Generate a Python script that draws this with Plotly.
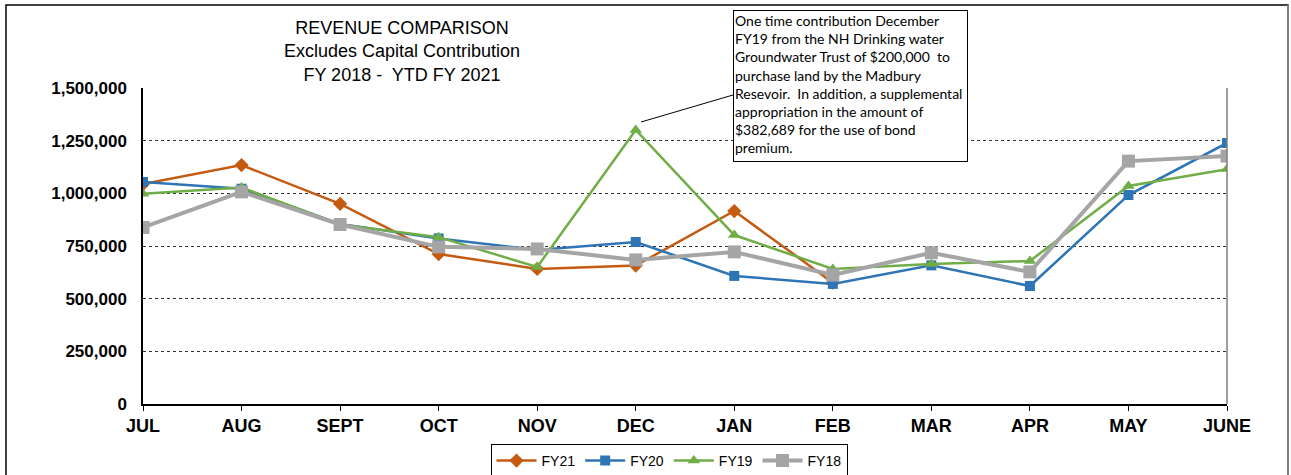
import plotly.graph_objects as go

MONTHS = ["JUL", "AUG", "SEPT", "OCT", "NOV", "DEC", "JAN", "FEB", "MAR", "APR", "MAY", "JUNE"]

FY21 = [1044000, 1134000, 950000, 712000, 641000, 657000, 916000, 576000]
FY20 = [1054000, 1022000, 855000, 786000, 731000, 769000, 608000, 570000, 658000, 560000, 992000, 1239000]
FY19 = [998000, 1028000, 852000, 792000, 650000, 1301000, 802000, 641000, 665000, 679000, 1035000, 1115000]
FY18 = [838000, 1007000, 852000, 746000, 736000, 684000, 722000, 612000, 718000, 627000, 1153000, 1177000]

Y_TICKS = [0, 250000, 500000, 750000, 1000000, 1250000, 1500000]

NOTE = (
    "One time contribution December<br>"
    "FY19 from the NH Drinking water<br>"
    "Groundwater Trust of $200,000  to<br>"
    "purchase land by the Madbury<br>"
    "Resevoir.  In addition, a supplemental<br>"
    "appropriation in the amount of<br>"
    "$382,689 for the use of bond<br>"
    "premium."
)

SERIES = [
    ("FY21", FY21, "#C55A11", "diamond", 2.5, 11),
    ("FY20", FY20, "#2E75B6", "square", 2.5, 10),
    ("FY19", FY19, "#70AD47", "triangle-up", 2.5, 11),
    ("FY18", FY18, "#A5A5A5", "square", 4, 13),
]

W, H = 1291, 475
L, R, T, B = 143, 64, 88, 71
PW, PH = W - L - R, H - T - B
FONT = "Liberation Sans, Arial"


def px_x(x):
    return (x - L) / PW


def px_y(y):
    return (H - B - y) / PH


fig = go.Figure()
for name, vals, color, symbol, width, size in SERIES:
    fig.add_trace(
        go.Scatter(
            x=MONTHS[: len(vals)],
            y=vals,
            name=name,
            mode="lines+markers",
            line=dict(color=color, width=width),
            marker=dict(symbol=symbol, size=size, color=color),
        )
    )

fig.update_layout(
    width=W,
    height=H,
    paper_bgcolor="white",
    plot_bgcolor="white",
    margin=dict(l=L, r=R, t=T, b=B, autoexpand=False),
    font=dict(family=FONT, color="black"),
    showlegend=True,
    legend=dict(
        orientation="h",
        xref="container",
        yref="container",
        x=669 / W,
        xanchor="center",
        y=1 - 444 / H,
        yanchor="top",
        bordercolor="black",
        borderwidth=1,
        font=dict(size=14, family=FONT),
        itemwidth=40,
        tracegroupgap=0,
    ),
    title=dict(
        text="REVENUE COMPARISON<br>Excludes Capital Contribution<br>FY 2018 -  YTD FY 2021",
        x=402 / W,
        xanchor="center",
        y=1 - 34 / H,
        yanchor="top",
        font=dict(size=18, family=FONT),
    ),
)

fig.update_xaxes(
    type="category",
    categoryorder="array",
    categoryarray=MONTHS,
    range=[0, len(MONTHS) - 1],
    showgrid=False,
    showline=True,
    linecolor="black",
    linewidth=1.5,
    ticks="outside",
    ticklen=5,
    tickcolor="black",
    ticklabelstandoff=0,
    tickfont=dict(size=18, family=FONT, weight="bold"),
)
fig.update_yaxes(
    range=[0, 1500000],
    tickvals=Y_TICKS,
    ticktext=[f"{v:,}" for v in Y_TICKS],
    showgrid=True,
    gridcolor="#333333",
    griddash="dot",
    gridwidth=1,
    zeroline=False,
    showline=True,
    linecolor="black",
    linewidth=1.5,
    ticks="",
    ticklabelstandoff=11,
    tickfont=dict(size=17, family=FONT, weight="bold"),
)

# right edge of plot area
fig.add_shape(type="line", xref="paper", yref="paper", x0=1, x1=1, y0=0, y1=1,
              line=dict(color="#7F7F7F", width=1.5))
# outer chart border
fig.add_shape(type="rect", xref="paper", yref="paper",
              x0=px_x(6), x1=px_x(1288), y0=px_y(490), y1=px_y(5),
              line=dict(color="black", width=1.5))
fig.add_shape(type="line", xref="paper", yref="paper",
              x0=px_x(1288), x1=px_x(1288), y0=px_y(490), y1=px_y(5),
              line=dict(color="#7F7F7F", width=2))

# callout
fig.add_annotation(
    xref="paper", yref="paper",
    x=px_x(733), y=px_y(10),
    xanchor="left", yanchor="top",
    text=NOTE, align="left", showarrow=False,
    font=dict(size=14, family="Lato", color="black"),
    bordercolor="black", borderwidth=1, borderpad=1,
    bgcolor="white",
    width=231, height=148, valign="top",
)
fig.add_shape(type="line", xref="paper", yref="paper",
              x0=px_x(641), y0=px_y(122), x1=px_x(733), y1=px_y(95),
              line=dict(color="black", width=1))

fig.write_html(
    "out.html",
    config={"displayModeBar": False},
    post_script="document.body.style.margin='0';",
)
